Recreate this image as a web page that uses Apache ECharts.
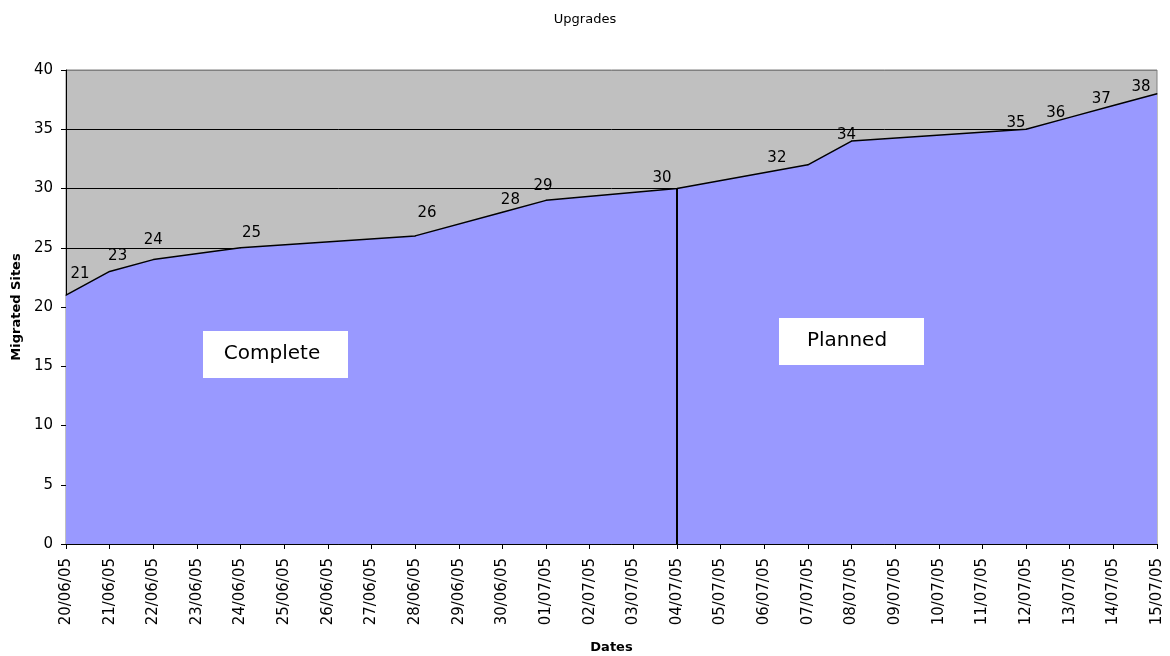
<!DOCTYPE html>
<html>
<head>
<meta charset="utf-8">
<script src="https://cdn.jsdelivr.net/npm/echarts@6/dist/echarts.min.js"></script>
<style>
  html, body { margin: 0; padding: 0; background: #fff; }
  #main { width: 1170px; height: 656px; }
</style>
</head>
<body>
<div id="main"></div>
<script>
// dates on the x axis
var dates = ['20/06/05', '21/06/05', '22/06/05', '23/06/05', '24/06/05', '25/06/05', '26/06/05',
  '27/06/05', '28/06/05', '29/06/05', '30/06/05', '01/07/05', '02/07/05', '03/07/05',
  '04/07/05', '05/07/05', '06/07/05', '07/07/05', '08/07/05', '09/07/05', '10/07/05',
  '11/07/05', '12/07/05', '13/07/05', '14/07/05', '15/07/05'];

// migrated sites (null = no reading that day, line is joined across)
var sites = [21, 23, 24, null, 25, null, null, null, 26, null, 28, 29, null, null,
  30, null, null, 32, 34, null, null, null, 35, 36, 37, 38];

var yTicks = [0, 5, 10, 15, 20, 25, 30, 35, 40];

var splitDate = '04/07/05';   // complete / planned
var splitValue = 30;

var font = 'DejaVu Sans';

var chart = echarts.init(document.getElementById('main'));

// gridline colours, one per tick; top one is the grey plot border
var gridColors = yTicks.map(function (v, i) { return i === yTicks.length - 1 ? '#808080' : '#000'; });

// value labels were nudged by hand in the original, keyed by date
var labelNudge = {
  '20/06/05': [14, -8], '21/06/05': [8, -2], '22/06/05': [0, -6], '24/06/05': [11, -2],
  '28/06/05': [12, -10], '30/06/05': [8, 1], '01/07/05': [-3, -1], '04/07/05': [-15, 3],
  '07/07/05': [-31, 6], '08/07/05': [-5, 7], '12/07/05': [-10, 7], '13/07/05': [-14, 9],
  '14/07/05': [-12, 7], '15/07/05': [-16, 6]
};

var seriesData = sites.map(function (v, i) {
  if (v === null) return null;
  var off = labelNudge[dates[i]] || [0, 0];
  return { value: v, label: { offset: off } };
});

var option = {
  animation: false,
  backgroundColor: '#fff',
  title: {
    text: 'Upgrades',
    left: 'center',
    top: 8,
    textStyle: { fontFamily: font, fontSize: 13, fontWeight: 'normal', color: '#000' }
  },
  grid: {
    left: 66, right: 13, top: 70, bottom: 112,
    outerBoundsMode: 'none', containLabel: false,
    show: true, backgroundColor: '#c0c0c0', borderColor: '#808080', borderWidth: 1
  },
  xAxis: {
    type: 'category',
    data: dates,
    boundaryGap: false,
    name: 'Dates',
    nameLocation: 'middle',
    nameGap: 97,
    nameTextStyle: { fontFamily: font, fontSize: 13, fontWeight: 'bold', color: '#000' },
    axisLine: { lineStyle: { color: '#000', width: 1 } },
    axisTick: { show: true, inside: false, length: 5, interval: 0, lineStyle: { color: '#000' } },
    axisLabel: { rotate: 90, interval: 0, fontFamily: font, fontSize: 15, color: '#000', margin: 14 },
    splitLine: { show: false }
  },
  yAxis: {
    type: 'value',
    min: yTicks[0],
    max: yTicks[yTicks.length - 1],
    interval: 5,
    name: 'Migrated Sites',
    nameLocation: 'middle',
    nameGap: 43,
    nameTextStyle: { fontFamily: font, fontSize: 13, fontWeight: 'bold', color: '#000' },
    axisLine: { show: true, lineStyle: { color: '#000', width: 1 } },
    axisTick: { show: true, inside: false, length: 5, lineStyle: { color: '#000' } },
    axisLabel: { fontFamily: font, fontSize: 15, color: '#000', margin: 13 },
    splitLine: { show: true, lineStyle: { color: gridColors, width: 1 } }
  },
  series: [{
    type: 'line',
    data: seriesData,
    connectNulls: true,
    symbol: 'circle',
    symbolSize: 1,
    showSymbol: true,
    itemStyle: { color: '#000' },
    lineStyle: { color: '#000', width: 1.5 },
    areaStyle: { color: '#9999ff', opacity: 1 },
    z: 3,
    label: {
      show: true,
      position: 'top',
      distance: 5,
      fontFamily: font,
      fontSize: 15,
      color: '#000'
    },
    markLine: {
      silent: true,
      symbol: 'none',
      label: { show: false },
      lineStyle: { color: '#000', width: 2, type: 'solid' },
      data: [[{ coord: [splitDate, 0] }, { coord: [splitDate, splitValue] }]]
    }
  }],
  graphic: [
    { type: 'rect', z: 10, shape: { x: 203, y: 331, width: 145, height: 47 }, style: { fill: '#fff' } },
    { type: 'text', z: 11, x: 272, y: 354, style: { text: 'Complete', font: '20px "DejaVu Sans"', fill: '#000', align: 'center', verticalAlign: 'middle' } },
    { type: 'rect', z: 10, shape: { x: 779, y: 318, width: 145, height: 47 }, style: { fill: '#fff' } },
    { type: 'text', z: 11, x: 847, y: 341, style: { text: 'Planned', font: '20px "DejaVu Sans"', fill: '#000', align: 'center', verticalAlign: 'middle' } }
  ]
};

chart.setOption(option);
</script>
</body>
</html>
